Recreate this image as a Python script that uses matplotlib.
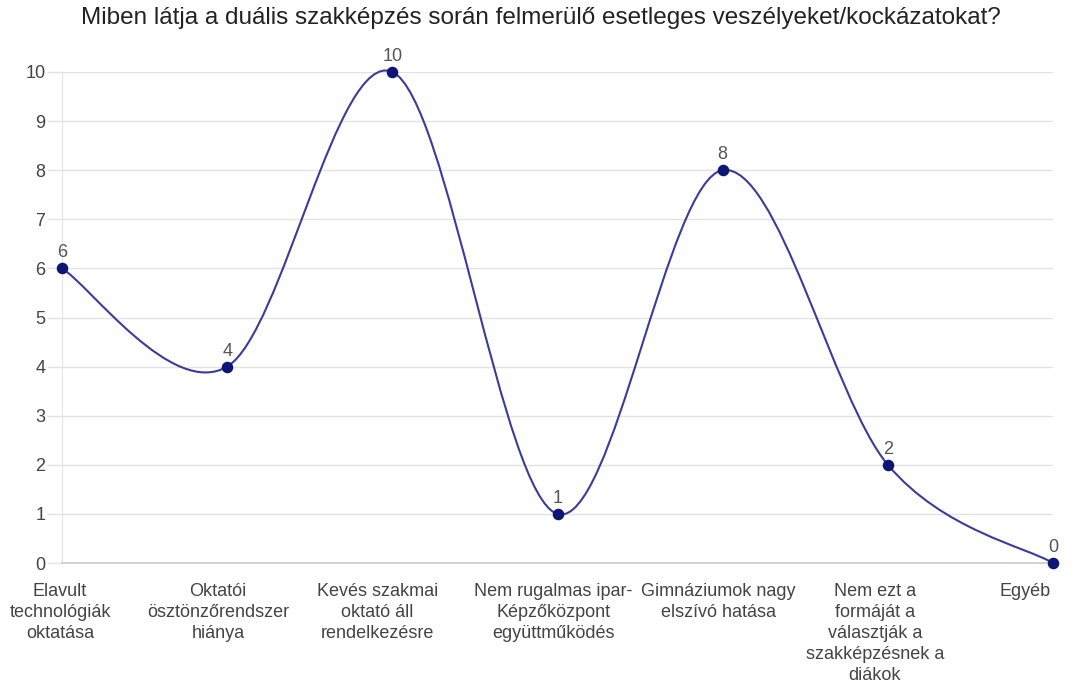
import numpy as np
import matplotlib
matplotlib.use("Agg")
import matplotlib.pyplot as plt
from matplotlib.path import Path
from matplotlib.patches import PathPatch
from matplotlib.transforms import ScaledTranslation, blended_transform_factory

plt.rcParams["font.family"] = ["Liberation Sans", "DejaVu Sans"]

title = "Miben látja a duális szakképzés során felmerülő esetleges veszélyeket/kockázatokat?"
categories = [
    "Elavult\ntechnológiák\noktatása",
    "Oktatói\nösztönzőrendszer\nhiánya",
    "Kevés szakmai\noktató áll\nrendelkezésre",
    "Nem rugalmas ipar-\nKépzőközpont\negyüttműködés",
    "Gimnáziumok nagy\nelszívó hatása",
    "Nem ezt a\nformáját a\nválasztják a\nszakképzésnek a\ndiákok",
    "Egyéb",
]
values = [6, 4, 10, 1, 8, 2, 0]
# horizontal nudges (px) for category labels
label_shift = [-2, -9, -15, -4, -4, -13, -28]

W, H = 1077, 686
fig = plt.figure(figsize=(W / 100, H / 100), dpi=100)
ax = fig.add_axes([62 / W, (H - 563) / H, (1053 - 62) / W, (563 - 72) / H])

x = np.arange(len(values), dtype=float)
y = np.array(values, dtype=float)

# smooth curve: cubic bezier segments with catmull-rom style tangents
s = 1 / 6
verts = [(x[0], y[0])]
codes = [Path.MOVETO]
n = len(x)
for i in range(n - 1):
    p0 = max(i - 1, 0)
    p3 = min(i + 2, n - 1)
    c1 = (x[i] + (x[i + 1] - x[p0]) * s, y[i] + (y[i + 1] - y[p0]) * s)
    c2 = (x[i + 1] - (x[p3] - x[i]) * s, y[i + 1] - (y[p3] - y[i]) * s)
    verts += [c1, c2, (x[i + 1], y[i + 1])]
    codes += [Path.CURVE4] * 3
curve = PathPatch(Path(verts, codes), facecolor="none", edgecolor="#3b3b9b",
                  lw=1.5, clip_on=False, zorder=3)
ax.add_patch(curve)
ax.plot(x, y, "o", color="#0b1675", ms=7.3, clip_on=False, zorder=4)

for xi, yi in zip(x, y):
    ax.annotate(str(int(yi)), (xi, yi), xytext=(0, 5), textcoords="offset points",
                ha="center", va="bottom", fontsize=13, color="#555555", zorder=5)

ax.set_xlim(0, n - 1)
ax.set_ylim(0, 10)
ax.set_yticks(range(0, 11))
ax.set_xticks([])
ax.grid(axis="y", color="#e3e3e3", lw=1)
ax.set_axisbelow(True)
for side in ["top", "right"]:
    ax.spines[side].set_visible(False)
ax.spines["left"].set_color("#e3e3e3")
ax.spines["bottom"].set_color("#cccccc")
ax.spines["bottom"].set_linewidth(1.2)
ax.tick_params(axis="y", length=11, width=1, color="#e3e3e3",
               labelsize=13, labelcolor="#444444", pad=1)

trans = blended_transform_factory(ax.transData, fig.transFigure)
for xi, lab, dx in zip(x, categories, label_shift):
    t = trans + ScaledTranslation(dx / 100, 0, fig.dpi_scale_trans)
    ax.text(xi, (H - 583) / H, lab, transform=t, ha="center", va="top",
            fontsize=13, color="#444444", linespacing=1.3, multialignment="center")

fig.text(541 / W, 1 - 18 / H, title, ha="center", va="center", fontsize=17.5, color="#222222")

fig.savefig("out.png", dpi=100)
